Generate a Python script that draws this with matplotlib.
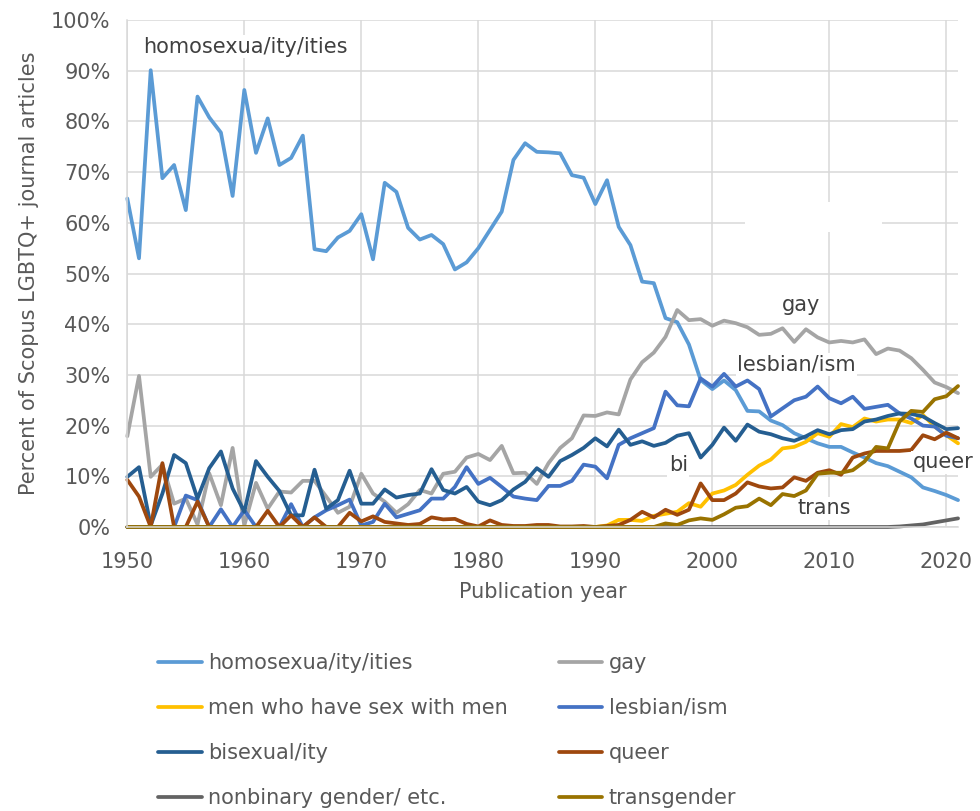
import matplotlib
matplotlib.use("Agg")
import matplotlib.pyplot as plt
from matplotlib.patches import Rectangle

# years and shares (% of Scopus LGBTQ+ journal articles)
years = list(range(1950, 2022))

homosexual = [
    64.8, 53.0, 90.1, 68.8, 71.4, 62.5, 84.9, 80.8, 77.8, 65.3,
    86.2, 73.8, 80.6, 71.4, 72.8, 77.2, 54.8, 54.4, 57.1, 58.4,
    61.7, 52.8, 67.9, 66.1, 59.0, 56.7, 57.6, 55.8, 50.8, 52.2,
    55.0, 58.6, 62.2, 72.4, 75.7, 74.0, 73.9, 73.7, 69.4, 68.9,
    63.7, 68.4, 59.2, 55.6, 48.4, 48.1, 41.2, 40.4, 36.0, 29.0,
    27.2, 28.9, 27.0, 22.9, 22.8, 21.0, 20.1, 18.5, 17.5, 16.5,
    15.8, 15.8, 14.7, 13.7, 12.6, 12.0, 10.9, 9.8, 7.8, 7.1,
    6.3, 5.3,
]
gay = [
    17.9, 29.8, 9.9, 12.3, 4.6, 5.6, 0.5, 10.6, 4.3, 15.6,
    0.3, 8.7, 3.6, 7.0, 6.8, 9.1, 9.1, 6.0, 2.8, 4.0,
    10.5, 6.6, 5.0, 2.8, 4.5, 7.3, 6.6, 10.5, 10.9, 13.7,
    14.4, 13.2, 16.0, 10.6, 10.7, 8.5, 12.6, 15.6, 17.5, 22.0,
    21.9, 22.6, 22.2, 29.1, 32.5, 34.4, 37.5, 42.8, 40.8, 41.0,
    39.7, 40.7, 40.2, 39.4, 37.9, 38.1, 39.2, 36.5, 39.0, 37.4,
    36.4, 36.7, 36.4, 37.0, 34.1, 35.2, 34.8, 33.3, 31.0, 28.5,
    27.6, 26.4,
]
msm = [0.0] * 41 + [
    0.3, 1.4, 1.4, 1.2, 2.2, 2.6, 3.0, 4.7, 4.0,
    6.6, 7.2, 8.3, 10.3, 12.1, 13.3, 15.5, 15.8, 16.8, 18.5,
    17.8, 20.3, 19.7, 21.4, 20.8, 21.2, 21.2, 20.5, 22.1, 19.8,
    18.1, 16.5,
]
lesbian = [
    0.0, 0.0, 0.0, 0.0, 0.0, 6.2, 5.3, 0.0, 3.5, 0.0,
    3.3, 0.0, 0.0, 0.0, 4.5, 0.0, 1.9, 3.3, 4.3, 5.4,
    0.3, 1.0, 4.6, 1.9, 2.6, 3.3, 5.6, 5.6, 7.9, 11.8,
    8.5, 9.7, 7.9, 6.0, 5.6, 5.3, 8.1, 8.1, 9.1, 12.3,
    11.9, 9.6, 16.2, 17.5, 18.5, 19.5, 26.7, 24.0, 23.8, 29.3,
    27.7, 30.2, 27.7, 28.9, 27.2, 21.8, 23.4, 25.0, 25.7, 27.7,
    25.4, 24.4, 25.7, 23.3, 23.7, 24.1, 22.4, 21.4, 20.0, 19.8,
    18.0, 17.5,
]
bisexual = [
    9.9, 11.8, 0.3, 6.6, 14.2, 12.6, 5.6, 11.6, 14.9, 7.6,
    3.0, 13.0, 9.9, 7.1, 2.3, 2.3, 11.3, 3.6, 5.3, 11.1,
    4.6, 4.6, 7.4, 5.8, 6.3, 6.6, 11.4, 7.3, 6.6, 7.9,
    5.0, 4.3, 5.3, 7.4, 8.9, 11.6, 9.9, 13.0, 14.2, 15.6,
    17.5, 15.9, 19.2, 16.2, 16.9, 16.0, 16.6, 18.0, 18.5, 13.7,
    16.2, 19.6, 17.0, 20.2, 18.8, 18.3, 17.5, 17.0, 17.9, 19.1,
    18.3, 19.1, 19.3, 20.8, 21.2, 21.9, 22.4, 22.3, 21.8, 20.5,
    19.3, 19.5,
]
queer = [
    9.3, 6.0, 0.0, 12.6, 0.0, 0.0, 5.0, 0.0, 0.0, 0.0,
    0.0, 0.0, 3.2, 0.0, 2.3, 0.0, 1.9, 0.0, 0.0, 2.8,
    1.1, 2.1, 1.0, 0.7, 0.4, 0.6, 1.9, 1.5, 1.6, 0.6,
    0.1, 1.3, 0.4, 0.2, 0.2, 0.4, 0.4, 0.1, 0.1, 0.2,
    0.0, 0.2, 0.4, 1.4, 3.0, 1.9, 3.4, 2.4, 3.4, 8.6,
    5.3, 5.3, 6.6, 8.8, 8.0, 7.6, 7.8, 9.8, 9.1, 10.7,
    11.2, 10.3, 13.7, 14.5, 15.0, 15.0, 15.0, 15.2, 18.1, 17.3,
    18.6, 17.5,
]
nonbinary = [0.0] * 66 + [0.1, 0.3, 0.5, 0.9, 1.3, 1.7]
transgender = [0.0] * 46 + [
    0.7, 0.4, 1.3, 1.7,
    1.4, 2.5, 3.8, 4.1, 5.6, 4.3, 6.5, 6.1, 7.2, 10.5,
    10.7, 10.7, 11.2, 12.9, 15.8, 15.5, 20.8, 22.9, 22.7, 25.2,
    25.8, 27.8,
]

series = [
    ("homosexua/ity/ities", homosexual, "#5B9BD5"),
    ("gay", gay, "#A5A5A5"),
    ("men who have sex with men", msm, "#FFC000"),
    ("lesbian/ism", lesbian, "#4472C4"),
    ("bisexual/ity", bisexual, "#255E91"),
    ("queer", queer, "#9E480E"),
    ("nonbinary gender/ etc.", nonbinary, "#636363"),
    ("transgender", transgender, "#997300"),
]

# in-chart labels: (text, year, percent)
labels = [
    ("homosexua/ity/ities", 1960.1, 94.7),
    ("gay", 2007.6, 43.8),
    ("lesbian/ism", 2007.2, 32.0),
    ("bi", 1997.1, 12.2),
    ("queer", 2019.7, 12.8),
    ("trans", 2009.6, 3.7),
]

plt.rcParams["font.family"] = "DejaVu Sans"
fs = 15
grey_txt = "#595959"

fig = plt.figure(figsize=(9.8, 8.11), dpi=100)
ax = fig.add_axes([0.1299, 0.3502, 0.8477, 0.6251])

lines = []
for name, vals, col in series:
    ln, = ax.plot(years, vals, color=col, lw=2.7, label=name,
                  solid_joinstyle="round", solid_capstyle="round", clip_on=False)
    lines.append(ln)

ax.set_xlim(1950, 2021)
ax.set_ylim(0, 100)
ax.set_xticks(range(1950, 2021, 10))
ax.set_yticks(range(0, 101, 10))
ax.set_yticklabels([f"{v}%" for v in range(0, 101, 10)])
ax.tick_params(length=0, labelsize=fs, colors=grey_txt)
ax.tick_params(axis="y", pad=12)
ax.tick_params(axis="x", pad=18)
ax.grid(True, color="#D9D9D9", lw=1.1)
ax.set_axisbelow(True)
for s in ["top", "right"]:
    ax.spines[s].set_visible(False)
for s in ["left", "bottom"]:
    ax.spines[s].set_color("#D9D9D9")
    ax.spines[s].set_linewidth(1.1)

ax.set_xlabel("Publication year", fontsize=fs, color=grey_txt, labelpad=7)
ax.set_ylabel("Percent of Scopus LGBTQ+ journal articles", fontsize=fs,
              color=grey_txt, labelpad=9)

# leftover empty label box in the original
ax.add_patch(Rectangle((2002.8, 58.2), 11.7, 5.9, facecolor="white",
                       edgecolor="none", zorder=1.5))

for txt, x, y in labels:
    ax.text(x, y, txt, fontsize=fs, color="#404040", ha="center", va="center",
            clip_on=False, zorder=5,
            bbox=dict(facecolor="white", edgecolor="none", pad=1))

# legend fills row by row in the original: reorder for matplotlib's column fill
order = [0, 2, 4, 6, 1, 3, 5, 7]
fig.legend([lines[i] for i in order], [series[i][0] for i in order],
           loc="upper left", bbox_to_anchor=(0.161, 0.195), ncol=2,
           frameon=False, fontsize=fs, labelcolor=grey_txt,
           handlelength=2.1, handletextpad=0.3, columnspacing=2.45,
           labelspacing=1.2, borderpad=0, borderaxespad=0)

fig.savefig("out.png", dpi=100)
